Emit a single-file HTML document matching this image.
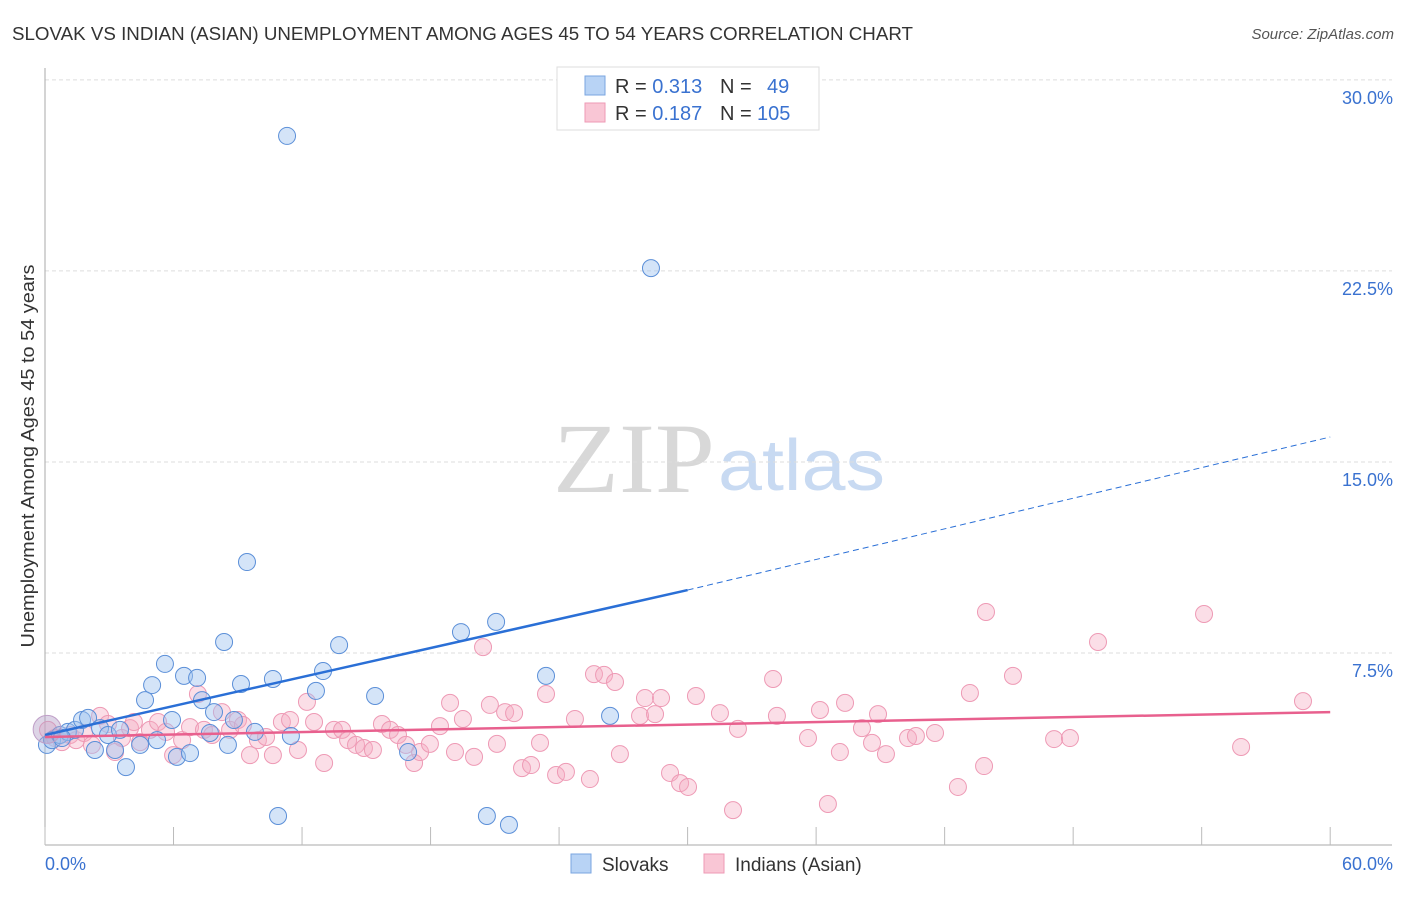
<!DOCTYPE html>
<html><head><meta charset="utf-8"><style>
body{margin:0;background:#fff;font-family:"Liberation Sans",sans-serif;}
svg text{font-family:"Liberation Sans",sans-serif;}
</style></head><body>
<svg id="chart" width="1406" height="892" xmlns="http://www.w3.org/2000/svg">
<text x="12" y="40" font-size="18" fill="#333" textLength="901" lengthAdjust="spacingAndGlyphs">SLOVAK VS INDIAN (ASIAN) UNEMPLOYMENT AMONG AGES 45 TO 54 YEARS CORRELATION CHART</text>
<text x="1394" y="39" font-size="15" fill="#555" font-style="italic" text-anchor="end">Source: ZipAtlas.com</text>
<text x="0" y="0" transform="translate(34,456) rotate(-90)" font-size="18" fill="#333" text-anchor="middle" textLength="383" lengthAdjust="spacingAndGlyphs">Unemployment Among Ages 45 to 54 years</text>
<g>
<text x="553" y="492" font-size="100" fill="#d8d8d8" textLength="162" lengthAdjust="spacingAndGlyphs" style="font-family:'Liberation Serif',serif">ZIP</text>
<text x="718" y="490" font-size="72" fill="#c8daf2" textLength="167" lengthAdjust="spacingAndGlyphs">atlas</text>
</g>
<g id="grid"></g><g id="axes"></g><g id="pinkPts"></g><g id="bluePts"></g><g id="trends"></g>
<g>
<rect x="557" y="67" width="262" height="63" fill="#fff" stroke="#ddd"/>
<rect x="585" y="76" width="20" height="19" fill="#b8d3f5" stroke="#7aa6e0"/>
<rect x="585" y="103" width="20" height="19" fill="#f9c6d5" stroke="#ee9ab5"/>
<text x="615" y="93" font-size="20" fill="#333">R = <tspan fill="#3a72d0">0.313</tspan><tspan x="720">N =</tspan><tspan x="767" fill="#3a72d0">49</tspan></text>
<text x="615" y="120" font-size="20" fill="#333">R = <tspan fill="#3a72d0">0.187</tspan><tspan x="720">N =</tspan><tspan x="757" fill="#3a72d0">105</tspan></text>
</g>
<g>
<rect x="571" y="854" width="20" height="19" fill="#b8d3f5" stroke="#7aa6e0"/>
<text x="602" y="871" font-size="19" fill="#333">Slovaks</text>
<rect x="704" y="854" width="20" height="19" fill="#f9c6d5" stroke="#ee9ab5"/>
<text x="735" y="871" font-size="19" fill="#333">Indians (Asian)</text>
</g>
</svg>
<script>
const yTicks=[7.5,15,22.5,30];
const yTickLabels=["7.5%","15.0%","22.5%","30.0%"];
const xTicks=[0,6,12,18,24,30,36,42,48,54,60];
const blueX=[0.09,0.33,0.70,1.07,1.40,1.73,2.01,2.33,2.57,2.94,3.27,3.50,3.78,4.44,4.67,5.00,5.23,5.60,5.93,6.16,6.49,6.77,7.10,7.33,7.70,7.89,8.36,8.54,8.82,9.15,9.43,9.80,10.64,10.88,11.30,11.48,12.65,12.98,13.73,15.41,16.95,19.42,20.63,21.06,21.66,23.39,26.38,28.29,0.79];
const blueY=[3.89,4.08,4.28,4.40,4.48,4.87,4.95,3.69,4.55,4.28,3.69,4.48,3.02,3.89,5.65,6.24,4.08,7.07,4.87,3.42,6.60,3.57,6.52,5.65,4.36,5.18,7.93,3.89,4.87,6.28,11.07,4.40,6.48,1.10,27.80,4.24,6.01,6.79,7.81,5.81,3.61,8.32,1.10,8.72,0.75,6.60,5.03,22.61,4.16];
const pinkX=[0.14,0.47,0.79,1.17,1.45,1.82,2.19,2.57,2.94,3.27,3.59,3.97,4.15,4.44,4.90,5.28,5.65,5.98,6.40,6.77,7.14,7.42,7.80,8.26,8.64,9.01,9.24,9.57,9.94,10.32,10.64,11.06,11.44,11.81,12.23,12.56,13.03,13.49,13.87,14.15,14.52,14.89,15.31,15.73,16.11,16.48,16.85,17.23,17.51,17.97,18.44,18.91,19.14,19.51,20.03,20.45,20.77,21.10,21.48,21.90,22.27,22.69,23.11,23.39,23.86,24.32,24.74,25.44,25.63,26.10,26.61,26.84,27.78,28.01,28.48,28.76,29.18,29.65,30.02,30.39,31.51,32.12,32.35,33.99,34.17,35.62,36.18,36.55,37.11,37.35,38.14,38.61,38.89,39.26,40.29,40.66,41.55,42.62,43.18,43.84,43.93,45.19,47.11,47.85,49.16,54.11,55.84,58.73];
const pinkY=[4.48,4.16,4.00,4.28,4.08,4.36,3.89,5.03,4.71,3.61,4.16,4.55,4.79,4.00,4.48,4.79,4.40,3.49,4.08,4.59,5.89,4.48,4.28,5.18,4.48,4.87,4.67,3.49,4.08,4.20,3.49,4.79,4.87,3.69,5.58,4.79,3.18,4.48,4.48,4.08,3.89,3.77,3.69,4.71,4.48,4.28,3.89,3.18,3.61,3.93,4.63,5.54,3.61,4.91,3.42,7.73,5.46,3.93,5.18,5.14,2.98,3.10,3.97,5.89,2.71,2.83,4.91,2.55,6.67,6.64,6.36,3.53,5.03,5.73,5.10,5.73,2.79,2.39,2.24,5.81,5.14,1.33,4.52,6.48,5.03,4.16,5.26,1.57,3.61,5.54,4.55,3.97,5.10,3.53,4.16,4.24,4.36,2.24,5.93,3.06,9.11,6.60,4.12,4.16,7.93,9.03,3.81,5.61];
const blueTrend=[4.28,9.97];
const blueTrendExt=[9.97,15.98];
const pinkTrend=[4.20,5.18];
const NS="http://www.w3.org/2000/svg";
const X=v=>45+v*21.42, Y=v=>844-v*25.47;
function mk(tag,attrs,parent){const e=document.createElementNS(NS,tag);for(const k in attrs)e.setAttribute(k,attrs[k]);document.getElementById(parent).appendChild(e);return e;}
yTicks.forEach((t,i)=>{
  const g=mk('line',{x1:45,x2:1392,y1:Y(t),y2:Y(t),stroke:'#ddd','stroke-dasharray':'4,3'},'grid');
  
  
  const l=mk('text',{x:1393,y:Y(t)+24,'font-size':18,fill:'#3a72d0','text-anchor':'end'},'grid');
  l.textContent=yTickLabels[i];
  
  
});
const ya=mk('line',{x1:45,x2:45,y1:68,y2:845,stroke:'#aaa'},'axes');


const xa=mk('line',{x1:45,x2:1392,y1:845,y2:845,stroke:'#aaa'},'axes');


xTicks.forEach(t=>{const k=mk('line',{x1:X(t),x2:X(t),y1:827,y2:845,stroke:'#bbb'},'axes');

});
const xl0=mk('text',{x:45,y:870,'font-size':18,fill:'#3a72d0'},'axes');xl0.textContent='0.0%';


const xl1=mk('text',{x:1393,y:870,'font-size':18,fill:'#3a72d0','text-anchor':'end'},'axes');xl1.textContent='60.0%';


pinkX.forEach((x,i)=>{const c=mk('circle',{cx:X(x),cy:Y(pinkY[i]),r:8.5,fill:'rgba(246,172,196,0.4)',stroke:'#ee9ab5','stroke-width':1},'pinkPts');

});
blueX.forEach((x,i)=>{const c=mk('circle',{cx:X(x),cy:Y(blueY[i]),r:8.5,fill:'rgba(160,196,240,0.45)',stroke:'#5b8fd8','stroke-width':1},'bluePts');

});
const big=mk('circle',{cx:X(0.1),cy:Y(4.5),r:14,fill:'rgba(180,160,200,0.45)',stroke:'#c0a0c8'},'bluePts');


const bt=mk('line',{x1:X(0),y1:Y(blueTrend[0]),x2:X(30),y2:Y(blueTrend[1]),stroke:'#2a6fd6','stroke-width':2.5},'trends');


const be=mk('line',{x1:X(30),y1:Y(blueTrendExt[0]),x2:X(60),y2:Y(blueTrendExt[1]),stroke:'#2a6fd6','stroke-width':1,'stroke-dasharray':'6,4'},'trends');


const pt=mk('line',{x1:X(0),y1:Y(pinkTrend[0]),x2:X(60),y2:Y(pinkTrend[1]),stroke:'#e8608e','stroke-width':2.5},'trends');


</script>
</body></html>
